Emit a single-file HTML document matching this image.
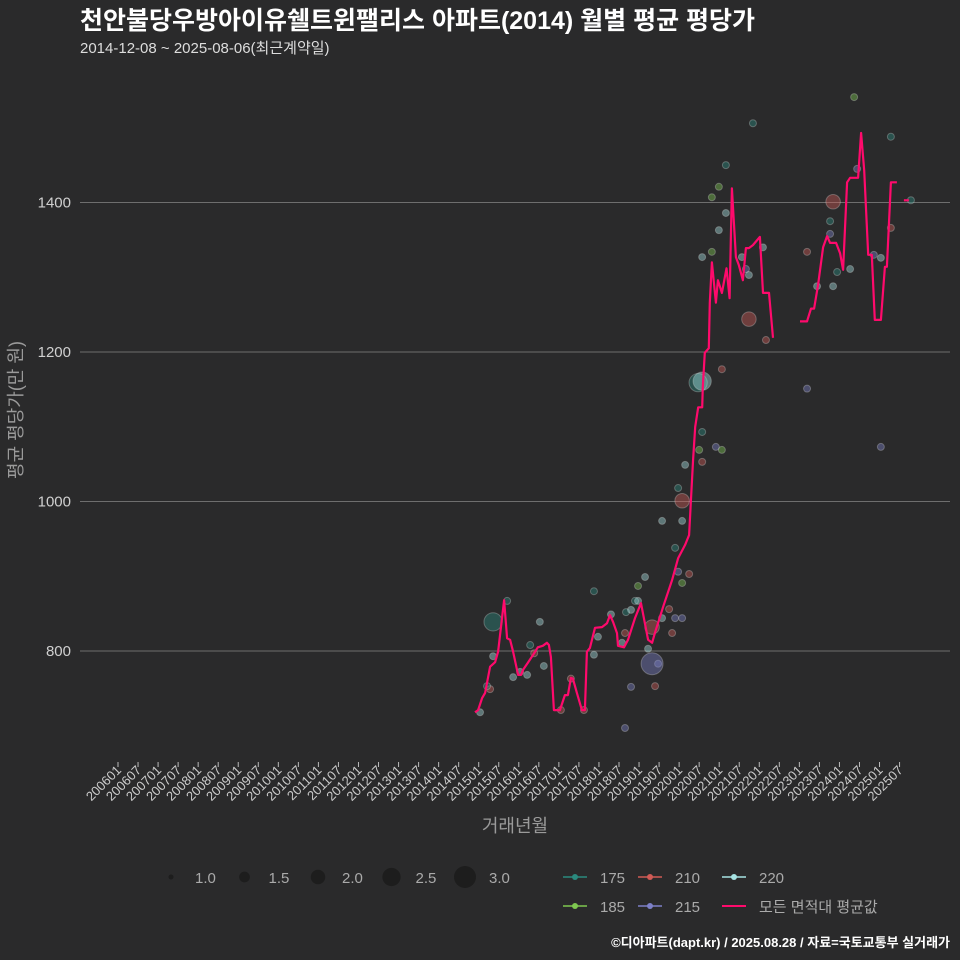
<!DOCTYPE html>
<html><head><meta charset="utf-8"><style>
body{margin:0;background:#2a2a2b;}
svg{display:block;font-family:"Liberation Sans","Noto Sans CJK KR",sans-serif;}
</style></head><body>
<svg id="chart" width="960" height="960" xmlns="http://www.w3.org/2000/svg">
<rect width="960" height="960" fill="#2a2a2b"/>
<text x="80" y="29" font-size="25" font-weight="bold" fill="#ffffff">천안불당우방아이유쉘트윈팰리스 아파트(2014) 월별 평균 평당가</text>
<text x="80" y="53" font-size="15" fill="#dddddd">2014-12-08 ~ 2025-08-06(최근계약일)</text>
<g id="grid"></g><g id="yticks"></g><g id="xticks"></g><g id="points"></g><g id="line"></g>
<text transform="translate(22,410) rotate(-90)" text-anchor="middle" font-size="18" fill="#9a9a9a">평균 평당가(만 원)</text>
<text x="515" y="832" text-anchor="middle" font-size="18" fill="#9a9a9a">거래년월</text>
<g id="legend"></g>
<text x="950" y="947" text-anchor="end" font-size="13" font-weight="bold" fill="#ffffff">©디아파트(dapt.kr) / 2025.08.28 / 자료=국토교통부 실거래가</text>
</svg>
<script>
// month index = months since 2006-01
const yTicks=[800,1000,1200,1400];
const lineMonth=[[106.9,107.8,109.0,109.9,111.4,112.9,113.8,115.6,116.5,117.4,118.3,119.8,120.7,121.3,122.8,124.3,125.7,127.2,128.4,129.0,129.6,130.5,132.3,133.8,134.7,135.6,136.2,137.4,138.9,139.8,140.4,141.3,142.8,144.9,146.4,147.3,148.2,149.4,149.7,151.5,152.7,154.8,156.6,158.7,159.9,160.8,163.2,165.9,167.7,169.8,171.0,171.6,172.2,172.8,173.7,174.9,175.1,175.7,176.9,177.2,177.8,179.0,179.6,180.8,182.2,183.1,183.8,185.0,185.9,187.1,188.0,188.9,190.1,192.2,193.1,194.9,196.1],
[204.2,206.3,207.5,208.4,209.6,211.1,212.3,213.2,215.0,216.2,217.1,218.3,219.2,221.6,222.5,223.4,224.6,225.7,226.6,228.4,229.6,230.2,231.4,233.2],[235.3,236.8]];
const lineValue=[[718,721,737,744,779,785,799,868,817,815,799,768,768,775,785,795,805,807,811,808,792,721,721,741,741,764,763,744,721,721,799,804,831,832,837,848,839,824,807,805,815,844,864,815,811,825,859,895,924,942,955,1006,1056,1100,1126,1126,1153,1199,1205,1266,1320,1266,1296,1279,1312,1272,1419,1327,1316,1296,1339,1339,1343,1354,1279,1279,1219],
[1241,1241,1258,1258,1290,1340,1355,1346,1346,1332,1310,1427,1433,1433,1493,1443,1330,1330,1243,1243,1314,1314,1427,1427],[1403,1403]];
const scMonth=[108.4,111.4,110.5,112.3,112.3,116.5,118.3,120.4,122.5,123.4,124.6,126.3,127.5,132.6,135.6,139.5,142.5,142.5,143.7,147.6,152.1,153.6,154.8,155.7,155.7,157.8,151.8,150.9,151.8,153.6,160.8,161.7,159.9,158.7,159.9,162.9,165.0,165.9,166.8,168.9,167.7,171.0,168.9,166.8,162.9,168.9,167.7,168.9,169.8,174.9,174.0,179.0,180.8,174.9,173.7,174.9,180.8,174.9,177.8,179.9,182.0,177.8,179.9,182.0,190.1,186.8,188.0,188.9,193.1,188.9,194.0,206.3,206.3,209.3,213.2,213.2,214.1,214.1,215.3,219.2,220.4,221.3,226.3,228.4,228.4,231.4,231.4,237.4];
const scValue=[718,749,753,793,839,867,765,772,768,808,797,839,780,721,763,721,880,795,819,849,852,855,867,867,887,899,824,811,697,752,753,783,783,803,832,844,856,824,844,844,906,903,891,938,974,974,1018,1001,1049,1053,1069,1073,1069,1093,1159,1161,1177,1327,1334,1363,1386,1407,1421,1450,1506,1327,1311,1303,1340,1244,1216,1334,1151,1288,1375,1358,1401,1288,1307,1311,1541,1445,1330,1326,1073,1488,1366,1403];
const scArea=[220,210,175,220,175,175,220,220,220,175,210,220,220,210,210,210,175,220,220,220,175,220,175,220,185,220,210,220,215,215,210,215,215,220,210,220,210,210,215,215,215,210,185,175,220,220,175,210,220,210,185,215,185,175,175,220,210,220,185,220,220,185,185,175,175,220,215,220,220,210,210,210,215,220,175,215,210,220,175,220,185,215,215,220,215,175,210,175];
const scCount=[1,1,1,1,2.5,1,1,1,1,1,1,1,1,1,1,1,1,1,1,1,1,1,1,1,1,1,1,1,1,1,1,1,3,1,2,1,1,1,1,1,1,1,1,1,1,1,1,2,1,1,1,1,1,1,2.5,2.5,1,1,1,1,1,1,1,1,1,1,1,1,1,2,1,1,1,1,1,1,2,1,1,1,1,1,1,1,1,1,1,1];
const areaNames=["175","185","210","215","220"];
const areaColors=["#2a8a7e","#7ec850","#d05a55","#7d80c8","#a6e3e3"];
const sizeLevels=[1.0,1.5,2.0,2.5,3.0];

const NS="http://www.w3.org/2000/svg";
const X=m=>118+m*3.34;
const Y=v=>651-(v-800)*0.7475;
const R=c=>3.5+(c-1)*3.75;
function mk(p,t,a){const e=document.createElementNS(NS,t);for(const k in a)e.setAttribute(k,a[k]);p.appendChild(e);return e;}
const g=id=>document.getElementById(id);

yTicks.forEach(v=>{
 const l=mk(g('grid'),'line',{x1:80,x2:950,y1:Y(v),y2:Y(v),stroke:'#6e6e6e','stroke-width':1});
 
 
 const t=mk(g('yticks'),'text',{x:71,y:Y(v)+5,'text-anchor':'end','font-size':15,fill:'#d0d0d0'});
 t.textContent=v;
 
 
});
for(let i=0;i<40;i++){
 const m=i*6, yr=2006+Math.floor(m/12), mo=(m%12)+1;
 const lab=yr+String(mo).padStart(2,'0');
 const x=X(m);
 const tk=mk(g('xticks'),'line',{x1:x,x2:x,y1:762,y2:767,stroke:'#bbbbbb'});
 
 
 const t=mk(g('xticks'),'text',{transform:`translate(${x+4},${771}) rotate(-45)`,'text-anchor':'end','font-size':13,fill:'#cccccc'});
 t.textContent=lab;
 
 
}
scMonth.forEach((m,i)=>{
 const col=areaColors[areaNames.indexOf(String(scArea[i]))];
 const c=mk(g('points'),'circle',{cx:X(m),cy:Y(scValue[i]),r:R(scCount[i]),fill:col,'fill-opacity':0.42,stroke:'#dddddd','stroke-opacity':0.3,'stroke-width':1});
 
 
});
lineMonth.forEach((ms,s)=>{
 const d=ms.map((m,i)=>(i?'L':'M')+X(m).toFixed(1)+','+Y(lineValue[s][i]).toFixed(1)).join(' ');
 const p=mk(g('line'),'path',{d:d,fill:'none',stroke:'#ff0a6c','stroke-width':2.2,'stroke-linejoin':'round'});
 
 
});
const L=g('legend');
sizeLevels.forEach((s,i)=>{
 const x=171+i*73.5;
 const c=mk(L,'circle',{cx:x,cy:877,r:s===1?2.5:R(s),fill:'#1c1c1c','fill-opacity':0.9});
 
 
 const t=mk(L,'text',{x:x+24,y:883,'font-size':15,fill:'#aaaaaa'});
 t.textContent=s.toFixed(1);
 
 
});
const ent=[["175",0,563,877],["185",1,563,906],["210",2,638,877],["215",3,638,906],["220",4,722,877]];
ent.forEach(e=>{
 const [n,ci,x,y]=e;
 const l=mk(L,'line',{x1:x,x2:x+24,y1:y,y2:y,stroke:areaColors[ci],'stroke-width':1.5});
 
 
 const c=mk(L,'circle',{cx:x+12,cy:y,r:3,fill:areaColors[ci]});
 
 
 const t=mk(L,'text',{x:x+37,y:y+6,'font-size':15,fill:'#aaaaaa'});
 t.textContent=n;
 
 
});
const al=mk(L,'line',{x1:722,x2:746,y1:906,y2:906,stroke:'#ff0a6c','stroke-width':2});


const at=mk(L,'text',{x:759,y:912,'font-size':15,fill:'#aaaaaa'});
at.textContent='모든 면적대 평균값';


</script>
</body></html>
